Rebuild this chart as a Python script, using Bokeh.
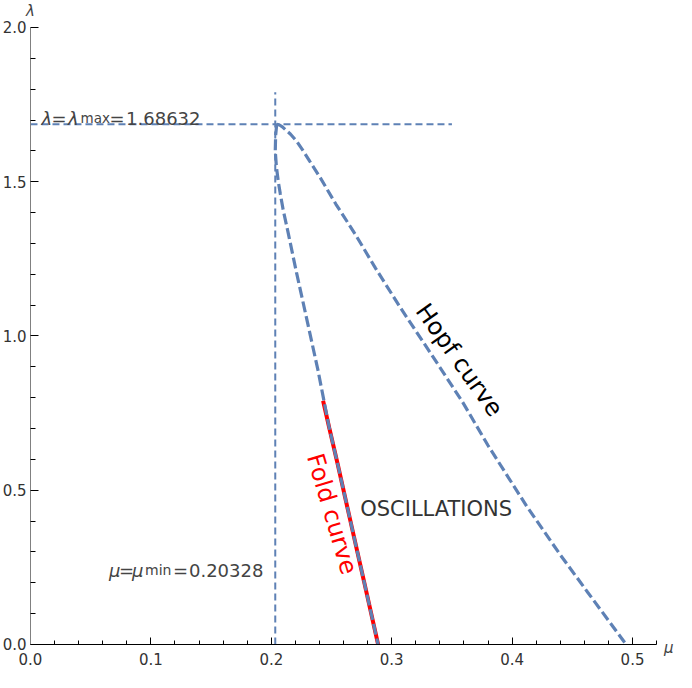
from bokeh.plotting import figure
from bokeh.models import Label, FixedTicker, Range1d
from bokeh.embed import file_html
from bokeh.resources import INLINE

# ---------------- data ----------------
mu_ticks = [0.0, 0.1, 0.2, 0.3, 0.4, 0.5]
mu_tick_labels = ["0.0", "0.1", "0.2", "0.3", "0.4", "0.5"]
mu_minor = [0.02, 0.04, 0.06, 0.08, 0.12, 0.14, 0.16, 0.18, 0.22, 0.24, 0.26, 0.28,
            0.32, 0.34, 0.36, 0.38, 0.42, 0.44, 0.46, 0.48, 0.52]
lam_ticks = [0.0, 0.5, 1.0, 1.5, 2.0]
lam_tick_labels = ["0.0", "0.5", "1.0", "1.5", "2.0"]
lam_minor = [0.1, 0.2, 0.3, 0.4, 0.6, 0.7, 0.8, 0.9, 1.1, 1.2, 1.3, 1.4,
             1.6, 1.7, 1.8, 1.9]
mu_axis_end = 0.52
lam_axis_end = 2.0

# Hopf curve
hopf_mu = [0.2045, 0.2068, 0.2092, 0.2120, 0.2160, 0.2209, 0.2265, 0.2320,
           0.2402, 0.2537, 0.2700, 0.2865, 0.3075, 0.3330, 0.3590, 0.3800,
           0.4121, 0.4400, 0.4627, 0.4947]
hopf_lam = [1.68632, 1.684, 1.678, 1.668, 1.654, 1.632, 1.600, 1.566,
            1.516, 1.427, 1.328, 1.220, 1.090, 0.940, 0.785, 0.645,
            0.448, 0.2905, 0.1695, 0.0]

# left branch (blue dashed)
left_mu = [0.2045, 0.2036, 0.20328, 0.2042, 0.2058, 0.2075, 0.2098, 0.2141,
           0.2209, 0.2300, 0.2387, 0.2482, 0.2551, 0.2660, 0.2769, 0.2887]
left_lam = [1.68632, 1.650, 1.600, 1.550, 1.500, 1.460, 1.410, 1.3325,
            1.206, 1.045, 0.890, 0.701, 0.585, 0.395, 0.206, 0.0]

# fold curve (red, lower part of the left branch)
fold_mu = [0.2430, 0.2482, 0.2551, 0.2660, 0.2769, 0.2887]
fold_lam = [0.790, 0.701, 0.585, 0.395, 0.206, 0.0]

lam_max = 1.68632
mu_min = 0.20328
hline_mu = [0.0, 0.35]
vline_lam = [0.0, 1.79]

BLUE = "#5E81B5"
RED = "#FF0000"
FONT = "DejaVu Sans"

p = figure(width=676, height=672,
           x_range=Range1d(-0.0249, 0.5365), y_range=Range1d(-0.0908, 2.0875),
           output_backend="svg", toolbar_location=None,
           min_border_left=0, min_border_right=0,
           min_border_top=0, min_border_bottom=0)
p.outline_line_color = None
p.grid.visible = False
p.background_fill_color = "white"
p.border_fill_color = "white"

# axes (drawn through the origin, inside the frame)
xa = p.xaxis[0]
ya = p.yaxis[0]
xa.fixed_location = 0
ya.fixed_location = 0
xa.bounds = (0, mu_axis_end)
ya.bounds = (0, lam_axis_end)
xa.ticker = FixedTicker(ticks=mu_ticks, minor_ticks=mu_minor)
xa.major_label_overrides = dict(zip(mu_ticks, mu_tick_labels))
ya.ticker = FixedTicker(ticks=lam_ticks, minor_ticks=lam_minor)
ya.major_label_overrides = dict(zip(lam_ticks, lam_tick_labels))
for ax in (xa, ya):
    ax.major_tick_out = 0
    ax.minor_tick_out = 0
    ax.major_tick_line_color = "black"
    ax.minor_tick_line_color = "black"
    ax.major_label_text_font = FONT
    ax.major_label_text_font_size = "15px"
    ax.major_label_text_color = "#333333"
xa.major_tick_in = 7
xa.minor_tick_in = 4
xa.axis_line_color = "black"
xa.major_label_standoff = 9
ya.major_tick_in = 8
ya.minor_tick_in = 5
ya.axis_line_color = "#808080"
ya.major_label_standoff = 4

# reference lines
p.line(hline_mu, [lam_max, lam_max], line_color=BLUE, line_width=2, line_dash="7 4")
p.line([mu_min, mu_min], vline_lam, line_color=BLUE, line_width=2, line_dash="7 4")

# curves
p.line(fold_mu, fold_lam, line_color=RED, line_width=4)
p.line(left_mu, left_lam, line_color=BLUE, line_width=3.2, line_dash="11 4")
p.line(hopf_mu, hopf_lam, line_color=BLUE, line_width=3.2, line_dash="10 4")

def lab(x, y, text, size, **kw):
    p.add_layout(Label(x=x, y=y, text=text, text_font=FONT,
                       text_font_size=size, **kw))

# axis names
lab(0.0, 2.055, "λ", "15px", text_font_style="italic", text_align="center",
    text_baseline="middle")
lab(0.530, -0.010, "μ", "15px", text_font_style="italic", text_align="center",
    text_baseline="middle")

# λ = λmax = 1.68632
lx, ly = 0.0092, 1.706
lab(lx, ly, "λ", "18px", text_font_style="italic", text_baseline="alphabetic")
lab(lx, ly, "=", "18px", x_offset=10.0, text_baseline="alphabetic")
lab(lx, ly, "λ", "18px", x_offset=26.5, text_font_style="italic", text_baseline="alphabetic")
lab(lx, ly, "max", "13.5px", x_offset=39.0, text_baseline="alphabetic")
lab(lx, ly, "=", "18px", x_offset=68.0, text_baseline="alphabetic")
lab(lx, ly, "1.68632", "18px", x_offset=84.5, text_baseline="alphabetic")

# μ = μmin = 0.20328
mx, my = 0.0652, 0.240
lab(mx, my, "μ", "18px", text_font_style="italic", text_baseline="alphabetic")
lab(mx, my, "=", "18px", x_offset=10.0, text_baseline="alphabetic")
lab(mx, my, "μ", "18px", x_offset=23.0, text_font_style="italic", text_baseline="alphabetic")
lab(mx, my, "min", "14px", x_offset=36.0, text_baseline="alphabetic")
lab(mx, my, "=", "18px", x_offset=64.0, text_baseline="alphabetic")
lab(mx, my, "0.20328", "18px", x_offset=80.0, text_baseline="alphabetic")

# curve names
lab(0.3561, 0.922, "Hopf curve", "24px", text_color="black", angle=-0.955,
    text_align="center", text_baseline="middle")
lab(0.2504, 0.423, "Fold curve", "24px", text_color=RED, angle=-1.283,
    text_align="center", text_baseline="middle")
lab(0.3369, 0.438, "OSCILLATIONS", "21px", text_color="#333333",
    text_align="center", text_baseline="middle")

open("out.html", "w").write(file_html(p, INLINE))
